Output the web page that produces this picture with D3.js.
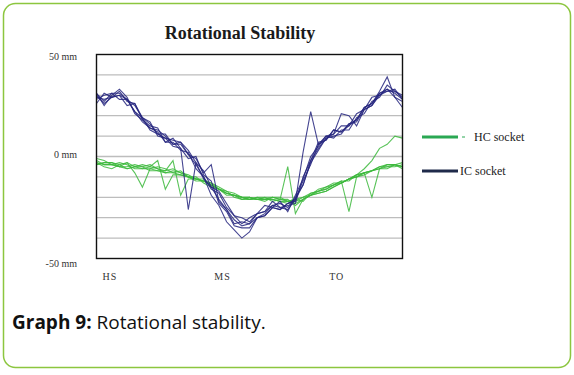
<!DOCTYPE html>
<html><head><meta charset="utf-8">
<script src="https://cdn.jsdelivr.net/npm/d3@7"></script>
<style>
html,body{margin:0;padding:0;background:#fff;}
svg{display:block;}
</style></head>
<body>
<svg id="chart" width="574" height="375"></svg>
<script>
// % of gait cycle sampled every 2.5 %
const gaitPct = d3.range(0, 100.01, 2.5);

// IC socket trials (mm)
const icTrial1 = [31, 25, 30, 33, 29, 21, 18, 15, 14, 7, 9, 4, -26, -3, -11, -15, -21, -26, -31, -34, -33, -28, -27, -22, -25, -26, -21, -14, -2, 4, 9, 11, 15, 15, 21, 23, 29, 30, 33, 29, 27];
const icTrial2 = [26, 31, 29, 30, 25, 26, 19, 13, 11, 9, 5, 4, -1, 0, -9, -12, -23, -27, -34, -35, -35, -30, -29, -25, -26, -23, -22, 2, 22, 6, 10, 9, 13, 13, 19, 21, 27, 29, 35, 32, 30];
const icTrial3 = [30, 26, 29, 30, 28, 22, 19, 17, 10, 9, 8, 7, 1, -4, -10, -16, -18, -25, -29, -33, -30, -28, -24, -25, -22, -27, -19, -11, 0, 5, 10, 11, 21, 20, 15, 23, 25, 30, 32, 33, 28];
const icTrial4 = [28, 30, 31, 31, 28, 25, 19, 16, 11, 11, 6, 6, 1, -1, -8, -4, -22, -26, -33, -32, -33, -30, -29, -25, -26, -23, -21, -12, -4, 6, 8, 13, 12, 15, 18, 24, 26, 32, 39, 29, 24];
const icTrial5 = [29, 28, 29, 32, 27, 26, 18, 14, 12, 7, 7, 3, 2, -6, -10, -19, -24, -32, -36, -40, -37, -30, -28, -24, -23, -25, -20, -14, -3, 3, 9, 10, 11, 16, 18, 24, 26, 31, 32, 32, 29];
const icTrial6 = [31, 27, 31, 28, 28, 22, 17, 14, 13, 10, 6, 7, 3, -3, -7, -15, -17, -23, -29, -30, -32, -28, -27, -24, -25, -24, -23, -10, -2, 7, 8, 13, 12, 16, 17, 23, 25, 31, 33, 31, 28];

// HC socket trials (mm)
const hcTrial1 = [-2, -4, -4, -5, -3, -8, -15, -6, -5, -6, -8, -9, -10, -10, -13, -15, -16, -17, -20, -21, -21, -20, -21, -21, -22, -23, -22, -20, -19, -16, -15, -13, -13, -11, -10, -8, -7, -6, -5, -5, -4];
const hcTrial2 = [-4, -3, -3, -5, -6, -5, -4, -5, -2, -16, -9, -9, -10, -12, -12, -14, -16, -19, -19, -20, -21, -21, -20, -20, -21, -22, -23, -21, -19, -18, -17, -15, -13, -11, -10, -9, -7, -6, -6, -4, -5];
const hcTrial3 = [-3, -5, -6, -4, -3, -5, -6, -6, -7, -8, -7, -8, -10, -11, -12, -13, -15, -17, -18, -20, -21, -20, -20, -22, -21, -5, -28, -21, -19, -17, -15, -14, -13, -11, -9, -8, -7, -5, -4, -4, -5];
const hcTrial4 = [-1, -2, -4, -5, -5, -4, -5, -7, -7, -7, -6, -8, -9, -11, -12, -14, -16, -18, -19, -20, -20, -21, -21, -21, -22, -22, -21, -20, -18, -17, -16, -14, -12, -27, -10, -8, -7, -5, -5, -4, -3];
const hcTrial5 = [-3, -4, -4, -3, -4, -6, -6, -5, -6, -7, -2, -19, -11, -11, -11, -14, -16, -18, -19, -21, -20, -21, -21, -20, -20, -22, -21, -22, -18, -17, -16, -14, -12, -12, -9, -8, -20, -6, -4, -4, -6];
const hcTrial6 = [-4, -3, -3, -4, -6, -5, -5, -4, -6, -8, -8, -7, -10, -11, -12, -13, -16, -18, -19, -20, -20, -21, -22, -20, -21, -21, -24, -21, -19, -18, -17, -15, -13, -11, -9, -6, -2, 4, 6, 10, 9];

const yTickValues = [50, 0, -50];
const yTickLabels = ["50 mm", "0 mm", "-50 mm"];
const xTickLabels = ["HS", "MS", "TO"];
const xTickAt = [4.4, 41.2, 78.5];
const seriesNames = ["HC socket", "IC socket"];

const svg = d3.select("#chart");

// card border
svg.append("rect").attr("x", 3.5).attr("y", 3.5).attr("width", 567).attr("height", 364)
  .attr("rx", 12).attr("fill", "#fff").attr("stroke", "#8cc63f").attr("stroke-width", 1.5);

const x = d3.scaleLinear().domain([0, 100]).range([96.5, 402.5]);
const y = d3.scaleLinear().domain([-50, 50]).range([258.5, 54.5]);

// gridlines
svg.append("g").selectAll("line").data(d3.range(-40, 50, 10)).join("line")
  .attr("x1", x(0)).attr("x2", x(100))
  .attr("y1", d => y(d)).attr("y2", d => y(d))
  .attr("stroke", "#bdbdbd").attr("stroke-width", 1.3);

const line = d3.line().x((d, i) => x(gaitPct[i])).y(d => y(d));

svg.append("clipPath").attr("id", "clip").append("rect")
  .attr("x", x(0)).attr("y", y(50)).attr("width", x(100) - x(0)).attr("height", y(-50) - y(50));

const plot = svg.append("g").attr("clip-path", "url(#clip)");
[hcTrial1, hcTrial2, hcTrial3, hcTrial4, hcTrial5, hcTrial6].forEach(t => {
  plot.append("path").attr("d", line(t)).attr("fill", "none")
    .attr("stroke", "#3cb83c").attr("stroke-width", 1.1).attr("stroke-opacity", 0.85);
});
[icTrial1, icTrial2, icTrial3, icTrial4, icTrial5, icTrial6].forEach(t => {
  plot.append("path").attr("d", line(t)).attr("fill", "none")
    .attr("stroke", "#25247e").attr("stroke-width", 1.1).attr("stroke-opacity", 0.85);
});

// frame
svg.append("rect").attr("x", x(0)).attr("y", y(50)).attr("width", x(100) - x(0)).attr("height", y(-50) - y(50))
  .attr("fill", "none").attr("stroke", "#111").attr("stroke-width", 1.4);

// y labels
svg.append("g").selectAll("text").data(yTickValues).join("text")
  .attr("x", 77).attr("y", (d, i) => y(d) + [5, 1, 8][i])
  .attr("text-anchor", "end")
  .attr("font-family", "Liberation Serif, serif").attr("font-size", 10).attr("fill", "#333")
  .text((d, i) => yTickLabels[i]);

// x labels
svg.append("g").selectAll("text").data(xTickLabels).join("text")
  .attr("x", (d, i) => x(xTickAt[i])).attr("y", 280)
  .attr("text-anchor", "middle")
  .attr("font-family", "Liberation Serif, serif").attr("font-size", 10).attr("fill", "#333")
  .attr("letter-spacing", 1)
  .text(d => d);

// title
svg.append("text").attr("x", 240).attr("y", 39).attr("text-anchor", "middle")
  .attr("font-family", "Liberation Serif, serif").attr("font-weight", "bold").attr("font-size", 18)
  .attr("fill", "#1a1a1a").text("Rotational Stability");

// legend
const legColors = ["#2aa853", "#1f2a4a"];
const legY = [137, 171];
const legTextX = [474, 460];
seriesNames.forEach((n, i) => {
  svg.append("line").attr("x1", 422).attr("x2", 458).attr("y1", legY[i]).attr("y2", legY[i])
    .attr("stroke", legColors[i]).attr("stroke-width", 3);
  svg.append("text").attr("x", legTextX[i]).attr("y", legY[i] + 4)
    .attr("font-family", "Liberation Serif, serif").attr("font-size", 12).attr("fill", "#222").text(n);
});
svg.append("line").attr("x1", 462).attr("x2", 465).attr("y1", legY[0]).attr("y2", legY[0])
  .attr("stroke", legColors[0]).attr("stroke-width", 1);

// caption
const cap = svg.append("text").attr("x", 12).attr("y", 329)
  .attr("font-family", "Open Sans, sans-serif").attr("font-size", 19).attr("fill", "#111");
cap.append("tspan").attr("font-weight", "bold").text("Graph 9:");
cap.append("tspan").text(" Rotational stability.");
</script>
</body></html>
